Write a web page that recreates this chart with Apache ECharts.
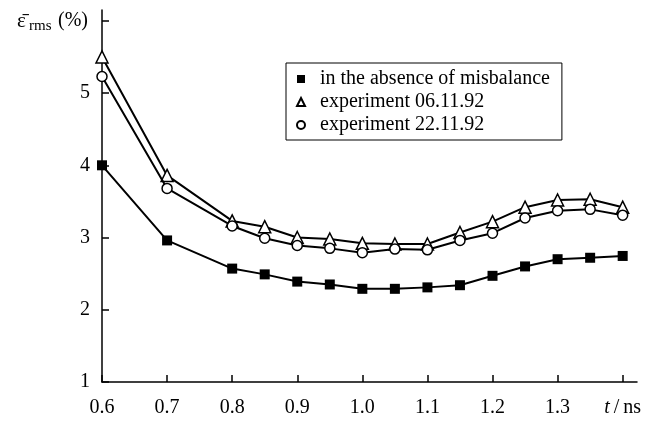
<!DOCTYPE html>
<html>
<head>
<meta charset="utf-8">
<script src="https://cdn.jsdelivr.net/npm/echarts@6/dist/echarts.min.js"></script>
<style>
html,body{margin:0;padding:0;background:#fff}
#c{width:652px;height:422px}
</style>
</head>
<body>
<div id="c"></div>
<script>
// Pulse duration t (ns)
const times = [0.6, 0.7, 0.8, 0.85, 0.9, 0.95, 1.0, 1.05, 1.1, 1.15, 1.2, 1.25, 1.3, 1.35, 1.4];
// Mean rms error (%) for each case
const noMisbalance = [4.00, 2.96, 2.57, 2.49, 2.39, 2.35, 2.29, 2.29, 2.31, 2.34, 2.47, 2.60, 2.70, 2.72, 2.745];
const exp061192   = [5.50, 3.86, 3.23, 3.15, 3.00, 2.98, 2.92, 2.91, 2.91, 3.07, 3.22, 3.42, 3.52, 3.53, 3.42];
const exp221192   = [5.23, 3.68, 3.16, 2.99, 2.89, 2.85, 2.79, 2.84, 2.83, 2.96, 3.06, 3.27, 3.37, 3.39, 3.31];

const seriesNames = ['in the absence of misbalance', 'experiment 06.11.92', 'experiment 22.11.92'];
const xTicks = [0.6, 0.7, 0.8, 0.9, 1.0, 1.1, 1.2, 1.3, 1.4];
const yTicks = [1, 2, 3, 4, 5, 6];
const yLabels = [1, 2, 3, 4, 5];

const FONT = '"Liberation Serif", "DejaVu Serif", serif';

function pairs(ys) { return times.map((t, i) => [t, ys[i]]); }

const chart = echarts.init(document.getElementById('c'), null, { renderer: 'canvas' });

const axisLine = { show: true, onZero: false, lineStyle: { color: '#000', width: 1.5 } };

chart.setOption({
  animation: false,
  backgroundColor: '#fff',
  grid: { left: 102, right: 15, top: 10, bottom: 40 },
  xAxis: {
    type: 'value',
    min: 0.6,
    max: 1.422,
    axisLine: axisLine,
    axisTick: { show: true, inside: true, length: 7, customValues: xTicks, lineStyle: { color: '#000', width: 1.5 } },
    splitLine: { show: false },
    axisLabel: {
      customValues: xTicks,
      margin: 16,
      color: '#000',
      fontFamily: FONT,
      fontSize: 20,
      // the last tick carries the axis title instead of a number
      formatter: v => Math.abs(v - 1.4) < 1e-6 ? '{i|t}\u2009/\u2009ns' : v.toFixed(1),
      rich: {
        i: { fontStyle: 'italic', fontFamily: FONT, fontSize: 20, color: '#000' }
      }
    }
  },
  yAxis: {
    type: 'value',
    min: 1,
    max: 6.15,
    axisLine: axisLine,
    axisTick: { show: true, inside: true, length: 7, customValues: yTicks, lineStyle: { color: '#000', width: 1.5 } },
    splitLine: { show: false },
    axisLabel: {
      customValues: yLabels,
      margin: 12,
      color: '#000',
      fontFamily: FONT,
      fontSize: 20
    }
  },
  legend: {
    orient: 'vertical',
    left: 286,
    top: 63,
    padding: [6, 12, 5, 10],
    itemWidth: 8,
    itemHeight: 8,
    itemGap: 3,
    borderColor: '#000',
    borderWidth: 1,
    formatter: name => '\u2002' + name,
    textStyle: { fontFamily: FONT, fontSize: 20, color: '#000' },
    data: [
      { name: seriesNames[0], icon: 'rect' },
      { name: seriesNames[1], icon: 'triangle' },
      { name: seriesNames[2], icon: 'circle' }
    ]
  },
  graphic: [
    { type: 'text', left: 17, top: 11, style: { text: 'ε\u0304', fontFamily: FONT, fontSize: 21, fill: '#000' } },
    { type: 'text', left: 29, top: 19, style: { text: 'rms', fontFamily: FONT, fontSize: 15, fill: '#000' } },
    { type: 'text', left: 58, top: 11, style: { text: '(%)', fontFamily: FONT, fontSize: 20, fill: '#000' } }
  ],
  series: [
    {
      name: seriesNames[0], type: 'line', data: pairs(noMisbalance),
      symbol: 'rect', symbolSize: 10,
      itemStyle: { color: '#000', borderColor: '#000', borderWidth: 0 },
      lineStyle: { color: '#000', width: 2 }, z: 2
    },
    {
      name: seriesNames[1], type: 'line', data: pairs(exp061192),
      symbol: 'triangle', symbolSize: 12,
      itemStyle: { color: '#fff', borderColor: '#000', borderWidth: 1.5 },
      lineStyle: { color: '#000', width: 2 }, z: 3
    },
    {
      name: seriesNames[2], type: 'line', data: pairs(exp221192),
      symbol: 'circle', symbolSize: 10,
      itemStyle: { color: '#fff', borderColor: '#000', borderWidth: 1.5 },
      lineStyle: { color: '#000', width: 2 }, z: 4
    }
  ]
});
</script>
</body>
</html>
